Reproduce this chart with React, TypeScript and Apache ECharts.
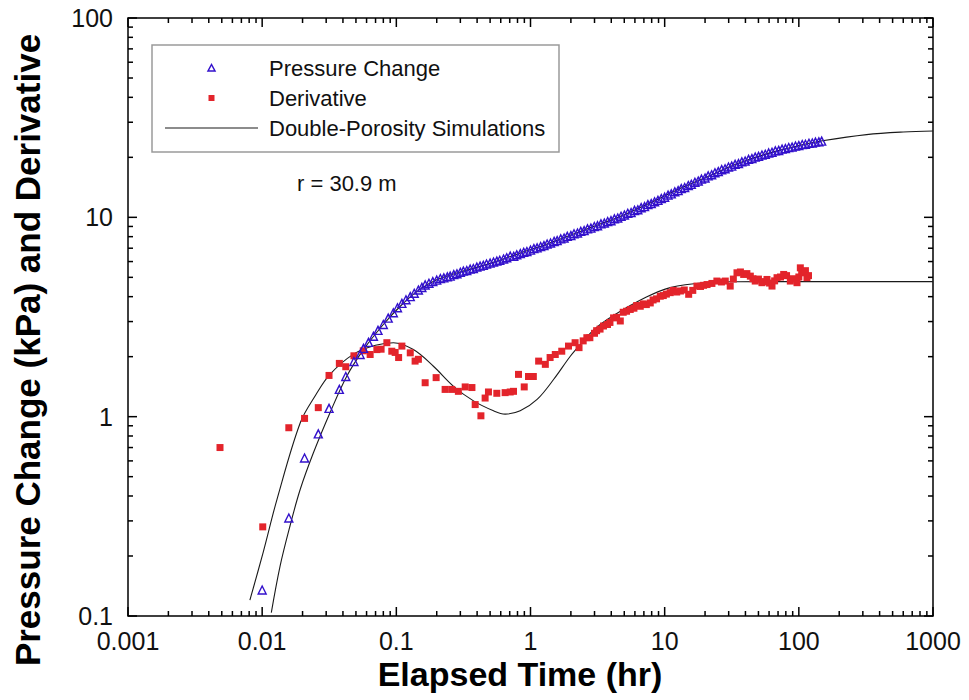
import React, { useEffect, useRef } from "react";
import * as echarts from "echarts";

const FONT = "'Liberation Sans', Arial, Helvetica, sans-serif";

const X_TICK_LABELS = ["0.001", "0.01", "0.1", "1", "10", "100", "1000"];
const Y_TICK_LABELS = ["0.1", "1", "10", "100"];
const X_DECADES = [0.001, 0.01, 0.1, 1, 10, 100, 1000];
const Y_DECADES = [0.1, 1, 10, 100];
const MINOR_MULTS = [2, 3, 4, 5, 6, 7, 8, 9];

const SERIES_NAMES = ["Pressure Change", "Derivative", "Double-Porosity Simulations"];
const ANNOTATION = "r = 30.9 m";

// Pressure change observations [time (hr), kPa]
const pressureData: number[][] = [
  [0.01, 0.135], [0.0158, 0.31], [0.0207, 0.62], [0.0262, 0.82], [0.0315, 1.1], [0.0376, 1.37],
  [0.042, 1.59], [0.0483, 1.89], [0.0537, 2.05], [0.0569, 2.2], [0.062, 2.36], [0.0675, 2.53],
  [0.073, 2.71], [0.08, 2.9], [0.087, 3.12], [0.095, 3.32], [0.102, 3.52], [0.11, 3.7],
  [0.118, 3.86], [0.127, 4.0], [0.136, 4.16], [0.146, 4.32], [0.155, 4.45], [0.164, 4.58],
  [0.175, 4.67], [0.187, 4.76], [0.2, 4.84], [0.213, 4.93], [0.226, 4.97], [0.24, 5.03],
  [0.252, 5.07], [0.268, 5.16], [0.283, 5.21], [0.3, 5.3], [0.316, 5.37], [0.335, 5.41],
  [0.355, 5.5], [0.375, 5.54], [0.398, 5.63], [0.421, 5.69], [0.445, 5.74], [0.47, 5.83],
  [0.5, 5.89], [0.53, 5.97], [0.561, 6.03], [0.59, 6.09], [0.63, 6.18], [0.665, 6.27],
  [0.706, 6.39], [0.75, 6.38], [0.79, 6.49], [0.84, 6.58], [0.89, 6.68], [0.94, 6.74],
  [1.0, 6.85], [1.06, 6.97], [1.12, 7.03], [1.19, 7.14], [1.26, 7.21], [1.33, 7.35],
  [1.41, 7.43], [1.5, 7.57], [1.58, 7.64], [1.68, 7.8], [1.78, 7.88], [1.88, 8.03],
  [2.0, 8.1], [2.11, 8.27], [2.24, 8.34], [2.37, 8.5], [2.51, 8.58], [2.66, 8.75],
  [2.82, 8.83], [2.99, 9.0], [3.16, 9.08], [3.35, 9.27], [3.55, 9.36], [3.76, 9.53],
  [3.98, 9.62], [4.22, 9.83], [4.47, 9.92], [4.73, 10.13], [5.01, 10.27], [5.31, 10.48],
  [5.62, 10.57], [5.96, 10.83], [6.31, 10.92], [6.68, 11.18], [7.08, 11.32], [7.5, 11.58],
  [7.94, 11.72], [8.41, 11.98], [8.91, 12.17], [9.44, 12.43], [10.0, 12.62], [10.6, 12.93],
  [11.2, 13.12], [11.9, 13.44], [12.6, 13.62], [13.3, 13.93], [14.1, 14.12], [15.0, 14.44],
  [15.8, 14.66], [16.8, 14.99], [17.8, 15.21], [18.8, 15.54], [20.0, 15.76], [21.1, 16.14],
  [22.4, 16.36], [23.7, 16.74], [25.1, 16.96], [26.6, 17.34], [28.2, 17.52], [29.9, 17.89],
  [31.6, 18.07], [33.5, 18.44], [35.5, 18.61], [37.6, 18.99], [39.8, 19.16], [42.2, 19.54],
  [44.7, 19.71], [47.3, 20.04], [50.1, 20.21], [53.1, 20.54], [56.2, 20.71], [59.6, 21.04],
  [63.1, 21.21], [66.8, 21.54], [70.8, 21.66], [75.0, 21.99], [79.4, 22.11], [84.1, 22.39],
  [89.1, 22.51], [94.4, 22.79], [100, 22.91], [106, 23.19], [112, 23.26], [119, 23.54],
  [126, 23.61], [133, 23.84], [141, 23.92], [148, 24.12],
];

// Derivative observations [time (hr), kPa]
const derivativeData: number[][] = [
  [0.00485, 0.7], [0.0101, 0.28], [0.0158, 0.88], [0.0207, 0.98], [0.0262, 1.11], [0.0315, 1.61],
  [0.0376, 1.85], [0.042, 1.78], [0.0483, 2.02], [0.0567, 2.14], [0.0638, 2.05], [0.0716, 2.17],
  [0.077, 2.18], [0.085, 2.35], [0.0925, 2.13], [0.098, 2.1], [0.104, 1.98], [0.11, 2.26],
  [0.127, 2.09], [0.138, 1.9], [0.146, 1.94], [0.164, 1.48], [0.198, 1.57], [0.231, 1.37],
  [0.259, 1.37], [0.29, 1.34], [0.326, 1.41], [0.366, 1.4], [0.387, 1.15], [0.427, 1.01],
  [0.459, 1.24], [0.486, 1.33], [0.561, 1.31], [0.647, 1.32], [0.706, 1.33], [0.747, 1.34],
  [0.814, 1.63], [0.898, 1.41], [0.966, 1.59], [1.05, 1.59], [1.15, 1.9], [1.29, 1.83],
  [1.4, 1.98], [1.53, 2.05], [1.71, 2.13], [1.92, 2.26], [2.15, 2.35], [2.3, 2.22],
  [2.47, 2.4], [2.63, 2.49], [2.77, 2.49], [3.0, 2.62], [3.11, 2.7], [3.3, 2.75],
  [3.5, 2.85], [3.75, 2.9], [3.91, 2.97], [4.16, 3.13], [4.38, 3.15], [4.67, 3.02],
  [4.91, 3.34], [5.2, 3.38], [5.54, 3.45], [5.9, 3.5], [6.18, 3.61], [6.58, 3.58],
  [6.92, 3.68], [7.3, 3.65], [7.81, 3.72], [8.2, 3.85], [8.7, 3.9], [9.27, 4.02],
  [9.77, 4.05], [10.3, 4.12], [11.0, 4.19], [11.6, 4.3], [12.3, 4.22], [13.1, 4.27],
  [14.0, 4.32], [15.1, 4.11], [16.2, 4.3], [17.4, 4.52], [18.5, 4.5], [19.5, 4.56],
  [20.7, 4.6], [22.5, 4.66], [24.5, 4.79], [26.5, 4.74], [28.3, 4.79], [30.8, 4.52],
  [32.5, 4.9], [34.6, 5.27], [36.7, 5.32], [38.8, 5.17], [41.0, 5.22], [43.5, 5.07],
  [45.5, 4.92], [47.3, 4.79], [50.0, 4.9], [53.1, 4.7], [55.5, 4.76], [57.9, 4.88],
  [60.5, 4.68], [63.1, 4.52], [66.0, 4.8], [68.8, 4.98], [73.0, 5.02], [77.1, 5.17],
  [81.0, 5.1], [86.4, 4.79], [91.0, 4.92], [96.9, 4.7], [100, 5.02], [102.6, 5.58],
  [105, 5.3], [108.6, 5.27], [112, 5.4], [115, 4.98], [118, 5.1],
];

// Double-porosity simulation curves
const simPressure: number[][] = [
  [0.0117, 0.104], [0.0136, 0.178], [0.0161, 0.282], [0.0192, 0.431], [0.0241, 0.659],
  [0.0321, 1.05], [0.0428, 1.6], [0.0569, 2.17], [0.08, 2.9], [0.107, 3.58], [0.146, 4.3],
  [0.2, 4.86], [0.3, 5.32], [0.5, 5.88], [0.8, 6.55], [1.3, 7.3], [2.0, 8.15], [3.3, 9.25],
  [5.0, 10.3], [8.0, 11.9], [12, 13.6], [20, 15.8], [35, 18.6], [60, 21.0], [100, 22.9],
  [150, 24.2], [320, 26.0], [600, 26.8], [1000, 27.1],
];

const simDerivative: number[][] = [
  [0.0081, 0.12], [0.0102, 0.21], [0.0129, 0.385], [0.0192, 0.93], [0.025, 1.28],
  [0.032, 1.63], [0.048, 2.06], [0.07, 2.28], [0.095, 2.35], [0.134, 2.17], [0.189, 1.79],
  [0.267, 1.42], [0.376, 1.2], [0.53, 1.07], [0.647, 1.03], [0.838, 1.07], [1.12, 1.22],
  [1.49, 1.54], [1.98, 2.01], [2.35, 2.3], [3.0, 2.75], [4.13, 3.21], [7.31, 3.98],
  [11.0, 4.44], [19.5, 4.7], [35, 4.75], [100, 4.76], [1000, 4.76],
];

const COLORS = { pressure: "#3311cc", derivative: "#e3242b", sim: "#1a1a1a" };

const buildTicks = (decades: number[]) => {
  const out: number[][] = [];
  decades.forEach((d, i) => {
    out.push([d, 1]);
    if (i < decades.length - 1) MINOR_MULTS.forEach((m) => out.push([d * m, 0]));
  });
  return out;
};

export default function App() {
  const ref = useRef<HTMLDivElement>(null);

  useEffect(() => {
    document.body.style.margin = "0";
    if (!ref.current) return;
    const chart = echarts.init(ref.current, null, { renderer: "svg" });

    const xMin = X_DECADES[0];
    const xMax = X_DECADES[X_DECADES.length - 1];
    const yMin = Y_DECADES[0];
    const yMax = Y_DECADES[Y_DECADES.length - 1];
    const tickStyle = { stroke: "#000", lineWidth: 1.5 };

    const xTicks = buildTicks(X_DECADES).map((t) => [t[0], 1, t[1]]);
    const yTicks = buildTicks(Y_DECADES).map((t) => [1, t[0], t[1]]);

    // legend layout (box + entries)
    const LG = { x: 152, y: 45, w: 407, h: 107, iconCx: 211.5, lineX1: 165, lineX2: 258, textX: 269, rows: [68, 98, 128] };
    const legendText = (text: string, y: number) => ({
      type: "text",
      x: LG.textX,
      y,
      style: { text, fontSize: 22, fontFamily: FONT, fill: "#111", align: "left", verticalAlign: "middle" },
    });

    const option: any = {
      animation: false,
      backgroundColor: "#fff",
      textStyle: { fontFamily: FONT },
      grid: {
        left: 128,
        right: 36,
        top: 18,
        bottom: 84,
        show: true,
        borderColor: "#000",
        borderWidth: 1.5,
        backgroundColor: "#fff",
      },
      xAxis: {
        type: "log",
        logBase: 10,
        min: xMin,
        max: xMax,
        splitNumber: 6,
        axisLine: { show: false },
        axisTick: { show: false },
        splitLine: { show: false },
        axisLabel: {
          fontSize: 25,
          lineHeight: 25,
          fontFamily: FONT,
          color: "#111",
          margin: 12,
          formatter: (v: number) => X_TICK_LABELS[Math.round(Math.log10(v)) + 3] ?? "",
        },
      },
      yAxis: {
        type: "log",
        logBase: 10,
        min: yMin,
        max: yMax,
        splitNumber: 3,
        axisLine: { show: false },
        axisTick: { show: false },
        splitLine: { show: false },
        axisLabel: {
          fontSize: 25,
          fontFamily: FONT,
          color: "#111",
          margin: 15,
          formatter: (v: number) => Y_TICK_LABELS[Math.round(Math.log10(v)) + 1] ?? "",
        },
      },
      graphic: [
        {
          type: "text",
          x: 27,
          y: 350,
          rotation: Math.PI / 2,
          style: {
            text: "Pressure Change (kPa) and Derivative",
            fontSize: 35,
            fontWeight: "bold",
            fontFamily: FONT,
            fill: "#000",
            align: "center",
            verticalAlign: "middle",
          },
        },
        {
          type: "text",
          x: 520,
          y: 674,
          style: {
            text: "Elapsed Time (hr)",
            fontSize: 34,
            fontWeight: "bold",
            fontFamily: FONT,
            fill: "#000",
            align: "center",
            verticalAlign: "middle",
          },
        },
        {
          type: "text",
          x: 297,
          y: 183,
          style: {
            text: ANNOTATION,
            fontSize: 22,
            fontFamily: FONT,
            fill: "#111",
            align: "left",
            verticalAlign: "middle",
          },
        },
        {
          type: "group",
          z: 100,
          children: [
            {
              type: "rect",
              shape: { x: LG.x, y: LG.y, width: LG.w, height: LG.h },
              style: { fill: "#fff", stroke: "#9a9a9a", lineWidth: 1.5 },
            },
            {
              type: "polygon",
              shape: {
                points: [
                  [LG.iconCx, LG.rows[0] - 3.5],
                  [LG.iconCx - 3.5, LG.rows[0] + 3],
                  [LG.iconCx + 3.5, LG.rows[0] + 3],
                ],
              },
              style: { fill: "none", stroke: COLORS.pressure, lineWidth: 1.5 },
            },
            {
              type: "rect",
              shape: { x: LG.iconCx - 3, y: LG.rows[1] - 3, width: 6, height: 6 },
              style: { fill: COLORS.derivative },
            },
            {
              type: "line",
              shape: { x1: LG.lineX1, y1: LG.rows[2], x2: LG.lineX2, y2: LG.rows[2] },
              style: { stroke: COLORS.sim, lineWidth: 1.2 },
            },
            legendText(SERIES_NAMES[0], LG.rows[0]),
            legendText(SERIES_NAMES[1], LG.rows[1]),
            legendText(SERIES_NAMES[2], LG.rows[2]),
          ],
        },
      ],
      series: [
        {
          name: SERIES_NAMES[2],
          type: "line",
          data: simPressure,
          smooth: 0.35,
          symbol: "none",
          lineStyle: { color: COLORS.sim, width: 1.1 },
          itemStyle: { color: COLORS.sim },
          z: 2,
        },
        {
          name: SERIES_NAMES[2],
          type: "line",
          data: simDerivative,
          smooth: 0.35,
          symbol: "none",
          lineStyle: { color: COLORS.sim, width: 1.1 },
          itemStyle: { color: COLORS.sim },
          z: 2,
        },
        {
          name: SERIES_NAMES[1],
          type: "scatter",
          data: derivativeData,
          symbol: "rect",
          symbolSize: 7,
          itemStyle: { color: COLORS.derivative, opacity: 1 },
          z: 3,
        },
        {
          name: SERIES_NAMES[0],
          type: "scatter",
          data: pressureData,
          symbol: "triangle",
          symbolSize: 8,
          itemStyle: {
            color: "rgba(255,255,255,0)",
            borderColor: COLORS.pressure,
            borderWidth: 1.4,
            opacity: 1,
          },
          z: 4,
        },
        {
          type: "custom",
          silent: true,
          data: xTicks,
          encode: { x: 0, y: 1 },
          z: 5,
          renderItem: (_p: any, api: any) => {
            const v = api.value(0);
            const len = api.value(2) === 1 ? 9 : 5;
            const b = api.coord([v, yMin]);
            const t = api.coord([v, yMax]);
            return {
              type: "group",
              children: [
                { type: "line", shape: { x1: b[0], y1: b[1], x2: b[0], y2: b[1] - len }, style: tickStyle },
                { type: "line", shape: { x1: t[0], y1: t[1], x2: t[0], y2: t[1] + len }, style: tickStyle },
              ],
            };
          },
        },
        {
          type: "custom",
          silent: true,
          data: yTicks,
          encode: { x: 0, y: 1 },
          z: 5,
          renderItem: (_p: any, api: any) => {
            const v = api.value(1);
            const len = api.value(2) === 1 ? 9 : 5;
            const l = api.coord([xMin, v]);
            const r = api.coord([xMax, v]);
            return {
              type: "group",
              children: [
                { type: "line", shape: { x1: l[0], y1: l[1], x2: l[0] + len, y2: l[1] }, style: tickStyle },
                { type: "line", shape: { x1: r[0], y1: r[1], x2: r[0] - len, y2: r[1] }, style: tickStyle },
              ],
            };
          },
        },
      ],
    };

    chart.setOption(option);
    return () => chart.dispose();
  }, []);

  return <div ref={ref} style={{ width: 969, height: 700 }} />;
}
